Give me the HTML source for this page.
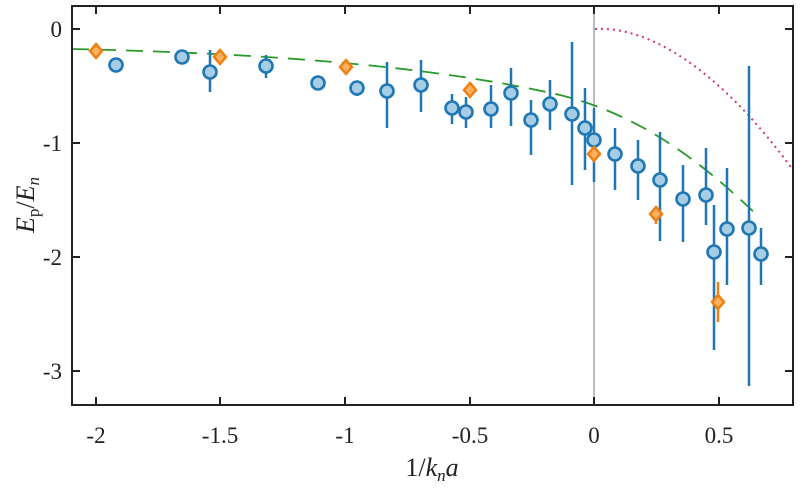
<!DOCTYPE html><html><head><style>body{margin:0;background:#fff}</style></head><body>
<svg width="800" height="484" xmlns="http://www.w3.org/2000/svg" font-family="Liberation Serif, serif">
<line x1="594" y1="6" x2="594" y2="405" stroke="#bbb" stroke-width="2"/>
<path d="M72,49 C300,54 450,70 560,95 C640,115 700,160 760,218" fill="none" stroke="#2a9a2a" stroke-width="1.8" stroke-dasharray="17,10"/>
<path d="M595,29 C650,26 720,70 793,170" fill="none" stroke="#d6337a" stroke-width="2" stroke-dasharray="2,4"/>
<g stroke="#1f77b4" stroke-width="2.5">
<line x1="210" y1="50" x2="210" y2="92"/><line x1="266" y1="55" x2="266" y2="78"/><line x1="357" y1="82" x2="357" y2="96"/><line x1="387" y1="62" x2="387" y2="128"/><line x1="421" y1="60" x2="421" y2="112"/><line x1="452" y1="94" x2="452" y2="124"/><line x1="466" y1="97" x2="466" y2="128"/><line x1="491" y1="85" x2="491" y2="128"/><line x1="511" y1="68" x2="511" y2="126"/><line x1="550" y1="80" x2="550" y2="130"/><line x1="531" y1="100" x2="531" y2="155"/><line x1="572" y1="42" x2="572" y2="185"/><line x1="585" y1="88" x2="585" y2="170"/><line x1="594" y1="108" x2="594" y2="182"/><line x1="615" y1="128" x2="615" y2="190"/><line x1="638" y1="140" x2="638" y2="200"/><line x1="660" y1="132" x2="660" y2="241"/><line x1="683" y1="165" x2="683" y2="242"/><line x1="706" y1="148" x2="706" y2="225"/><line x1="714" y1="205" x2="714" y2="350"/><line x1="727" y1="168" x2="727" y2="285"/><line x1="749" y1="66" x2="749" y2="386"/><line x1="761" y1="228" x2="761" y2="285"/>
</g>
<g stroke="#f07f12" stroke-width="2.5"><line x1="656" y1="206" x2="656" y2="224"/><line x1="718" y1="282" x2="718" y2="322"/></g>
<g fill="#a6cde3" stroke="#1f77b4" stroke-width="2.6">
<circle cx="116" cy="65" r="6.5"/><circle cx="182" cy="57" r="6.5"/><circle cx="210" cy="72" r="6.5"/><circle cx="266" cy="66" r="6.5"/><circle cx="318" cy="83" r="6.5"/><circle cx="357" cy="88" r="6.5"/><circle cx="387" cy="91" r="6.5"/><circle cx="421" cy="85" r="6.5"/><circle cx="452" cy="108" r="6.5"/><circle cx="466" cy="112" r="6.5"/><circle cx="491" cy="109" r="6.5"/><circle cx="511" cy="93" r="6.5"/><circle cx="550" cy="104" r="6.5"/><circle cx="531" cy="120" r="6.5"/><circle cx="572" cy="114" r="6.5"/><circle cx="585" cy="128" r="6.5"/><circle cx="594" cy="140" r="6.5"/><circle cx="615" cy="154" r="6.5"/><circle cx="638" cy="166" r="6.5"/><circle cx="660" cy="180" r="6.5"/><circle cx="683" cy="199" r="6.5"/><circle cx="706" cy="195" r="6.5"/><circle cx="714" cy="252" r="6.5"/><circle cx="727" cy="229" r="6.5"/><circle cx="749" cy="228" r="6.5"/><circle cx="761" cy="254" r="6.5"/>
</g>
<g fill="#fbb162" stroke="#f07f12" stroke-width="2.5">
<path d="M96,44 l6,7 l-6,7 l-6,-7z"/><path d="M220,50 l6,7 l-6,7 l-6,-7z"/><path d="M346,60 l6,7 l-6,7 l-6,-7z"/><path d="M470,83 l6,7 l-6,7 l-6,-7z"/><path d="M594,147 l6,7 l-6,7 l-6,-7z"/><path d="M656,207 l6,7 l-6,7 l-6,-7z"/><path d="M718,295 l6,7 l-6,7 l-6,-7z"/>
</g>
<rect x="72" y="6" width="721" height="399" fill="none" stroke="#222" stroke-width="2"/>
<g stroke="#222" stroke-width="2">
<path d="M96,405v-8M220,405v-8M345,405v-8M470,405v-8M594,405v-8M719,405v-8M96,6v8M220,6v8M345,6v8M470,6v8M594,6v8M719,6v8"/>
<path d="M72,29h8M72,143h8M72,257h8M72,371h8M793,29h-8M793,143h-8M793,257h-8M793,371h-8"/>
</g>
<g font-size="23" fill="#222" text-anchor="middle">
<text x="96" y="443">-2</text><text x="220" y="443">-1.5</text><text x="345" y="443">-1</text><text x="470" y="443">-0.5</text><text x="594" y="443">0</text><text x="719" y="443">0.5</text>
</g>
<g font-size="23" fill="#222" text-anchor="end">
<text x="62" y="37">0</text><text x="62" y="151">-1</text><text x="62" y="265">-2</text><text x="62" y="379">-3</text>
</g>
<text x="432" y="476" font-size="26" text-anchor="middle" fill="#222">1/<tspan font-style="italic">k</tspan><tspan font-style="italic" font-size="17" dy="5">n</tspan><tspan font-style="italic" dy="-5">a</tspan></text>
<text transform="translate(34,205) rotate(-90)" font-size="26" text-anchor="middle" fill="#222"><tspan font-style="italic">E</tspan><tspan font-size="17" dy="5">p</tspan><tspan dy="-5">/</tspan><tspan font-style="italic">E</tspan><tspan font-style="italic" font-size="17" dy="5">n</tspan></text>
</svg></body></html>
